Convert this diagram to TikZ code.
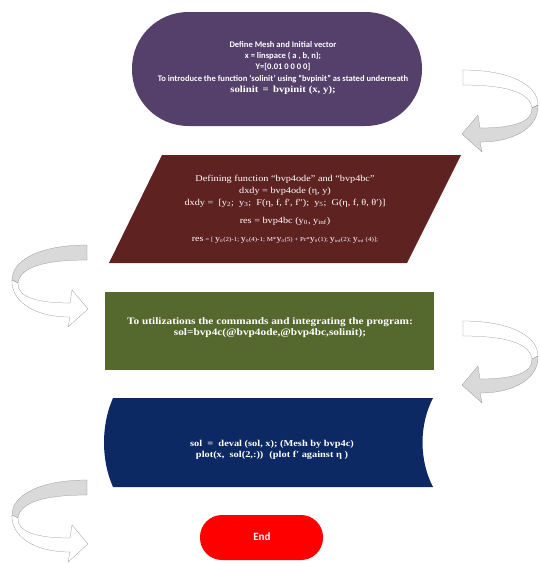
\documentclass[tikz,border=0pt]{standalone}
\usepackage{fontspec}
\setmainfont{Liberation Serif}[FakeStretch=1.15]
\newfontfamily\calibri{Carlito}
\definecolor{meshpurple}{RGB}{84,64,106}
\definecolor{odered}{RGB}{94,34,33}
\definecolor{solgreen}{RGB}{85,104,45}
\definecolor{evalblue}{RGB}{12,41,99}
\definecolor{ribbonfill}{RGB}{217,217,217}
\definecolor{ribbonline}{RGB}{140,140,140}

\tikzset{
  steptext/.style={text=white, align=center, inner sep=0pt},
}

% curved ribbon arrow: #1 start, #2 xscale, #3 upper fill, #4 lower fill
\newcommand{\turnarrow}[4]{%
  \begin{scope}[shift={(#1)},xscale=#2]
    \draw[ribbonline, fill=#3, very thin] (0,0) .. controls (47,0) and (75,15) .. (75,35)
      -- (69,38) .. controls (67,22) and (42,15) .. (0,15) -- cycle;
    \draw[ribbonline, fill=#4, very thin] (69,38) .. controls (70,52) and (50,58) .. (17,58)
      -- (15,45) -- (-1,64) -- (19,82) -- (17,72) .. controls (55,72) and (76,55) .. (75,35) -- cycle;
  \end{scope}}
% large y with small index in the residual line
\newcommand{\resy}[1]{{\fontsize{7.5}{8}\selectfont y}\textsubscript{#1}}

\begin{document}
\begin{tikzpicture}[x=0.3mm,y=-0.3mm]
    \useasboundingbox (0,0) rectangle (540,563);
    % Start: mesh and initial vector
    \fill[meshpurple, rounded corners=16.9mm] (132,12) rectangle (422,126);
    \node[steptext, font=\calibri\bfseries\fontsize{7.3}{9.8}\selectfont] (meshtext) at (283,68)
      {Define Mesh and Initial vector\\
       x = linspace ( a , b, n);\\
       Y=[0.01 0 0 0 0]\\
       To introduce the function ‘solinit’ using “bvpinit” as stated underneath\\
       {\rmfamily\fontsize{8}{10}\selectfont solinit\ \,=\ \,bvpinit (x, y);}};
    % Turn arrows
    \turnarrow{463,70}{1}{white}{ribbonfill}
    \turnarrow{87,245}{-1}{ribbonfill}{white}
    \turnarrow{463,321}{1}{white}{ribbonfill}
    \turnarrow{87,480}{-1}{ribbonfill}{white}
    % ODE and boundary conditions
    \fill[odered] (162,155) -- (461,155) -- (407,263) -- (109,263) -- cycle;
    \node[steptext, font=\fontsize{7.6}{10.3}\selectfont] (odetext) at (285,209)
      {Defining function “bvp4ode” and “bvp4bc”\\
       dxdy = bvp4ode (η, y)\\
       dxdy = \ [y\textsubscript{2}; \ y\textsubscript{3}; \ F(η, f, f′, f″); \ y\textsubscript{5}; \ G(η, f, θ, θ′)]\\[5pt]
       res = bvp4bc (y\textsubscript{0}, y\textsubscript{inf})\\[5pt]
       {\fontsize{5.2}{6}\selectfont {\fontsize{7.5}{8}\selectfont res} = [ \resy{0}(2)-1; \resy{0}(4)-1; M*\resy{0}(5) + Pr*\resy{0}(1); \resy{inf}(2); \resy{inf} (4)];}};
    % Solver call
    \fill[solgreen] (105,292) rectangle (434,370);
    \node[steptext, font=\bfseries\fontsize{8.4}{9.6}\selectfont] (soltext) at (270,328)
      {To utilizations the commands and integrating the program:\\
       sol=bvp4c(@bvp4ode,@bvp4bc,solinit);};
    % Evaluate and plot
    \fill[evalblue] (113,398) -- (433,398) .. controls (419,425) and (419,460) .. (433,487)
      -- (113,487) .. controls (101,460) and (101,425) .. (113,398) -- cycle;
    \node[steptext, font=\bfseries\fontsize{7.7}{9.4}\selectfont] (plottext) at (272,450)
      {sol \ = \ deval (sol, x); (Mesh by bvp4c)\\
       plot(x, \ sol(2,:)) \ (plot f′ against η )};
    % End
    \fill[red, rounded corners=6.6mm] (200,515) rectangle (323,560);
    \node[steptext, font=\calibri\bfseries\fontsize{9.5}{11}\selectfont] (endtext) at (262,537) {End};
\end{tikzpicture}
\end{document}
